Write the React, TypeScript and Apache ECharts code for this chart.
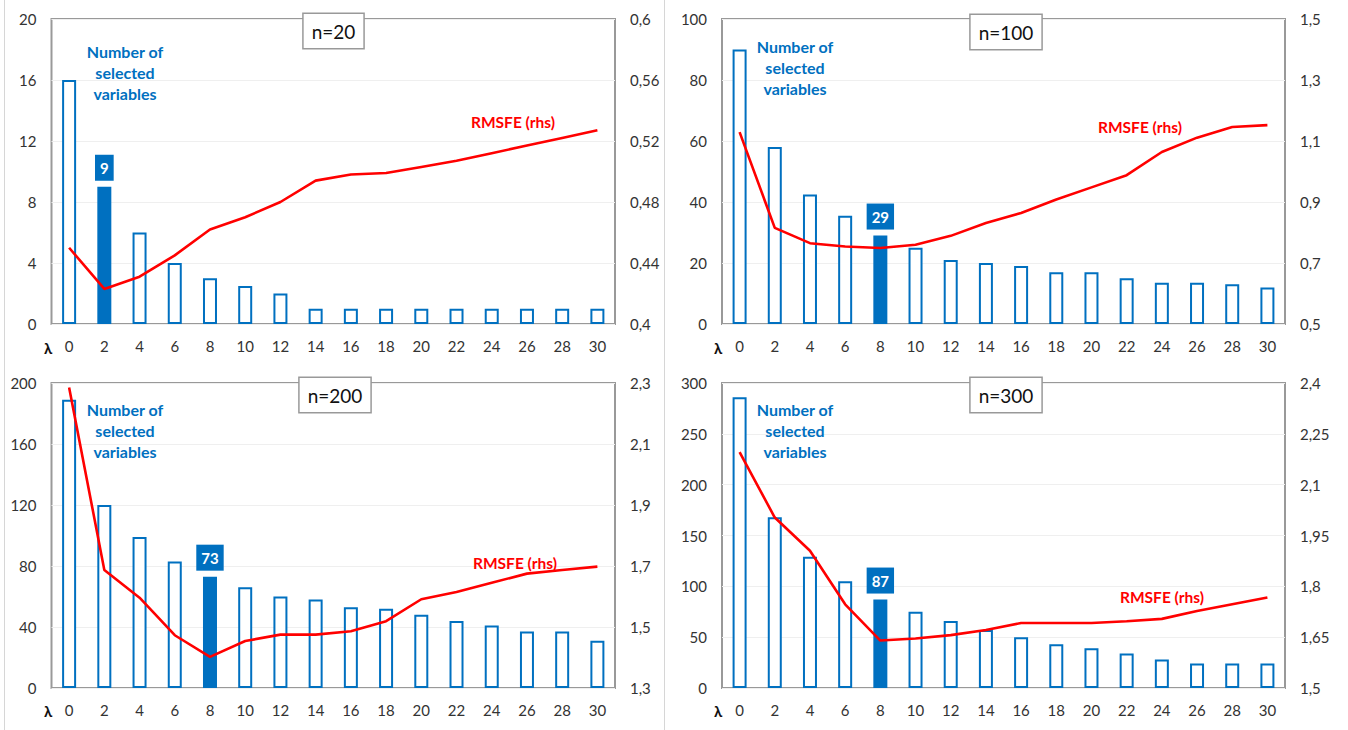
import React, { useEffect, useRef } from "react";
import * as echarts from "echarts";

const lambdas = ["0", "2", "4", "6", "8", "10", "12", "14", "16", "18", "20", "22", "24", "26", "28", "30"];

const vars20 = [16, 9, 6, 4, 3, 2.5, 2, 1, 1, 1, 1, 1, 1, 1, 1, 1];
const rmsfe20 = [0.450, 0.423, 0.431, 0.445, 0.462, 0.470, 0.480, 0.494, 0.498, 0.499, 0.503, 0.507, 0.512, 0.517, 0.522, 0.527];

const vars100 = [90, 58, 42.5, 35.5, 29, 25, 21, 20, 19, 17, 17, 15, 13.5, 13.5, 13, 12];
const rmsfe100 = [1.129, 0.815, 0.765, 0.754, 0.749, 0.760, 0.789, 0.831, 0.864, 0.908, 0.948, 0.988, 1.064, 1.111, 1.146, 1.152];

const vars200 = [189, 120, 99, 83, 73, 66, 60, 58, 53, 52, 48, 44, 41, 37, 37, 31];
const rmsfe200 = [2.285, 1.687, 1.596, 1.473, 1.402, 1.454, 1.475, 1.475, 1.486, 1.519, 1.591, 1.615, 1.645, 1.675, 1.687, 1.698];

const vars300 = [286, 168, 129, 105, 87, 75, 66, 57, 50, 43, 39, 34, 28, 24, 24, 24];
const rmsfe300 = [2.196, 2.003, 1.905, 1.747, 1.640, 1.646, 1.656, 1.671, 1.692, 1.692, 1.692, 1.697, 1.704, 1.727, 1.747, 1.767];

const titles = ["n=20", "n=100", "n=200", "n=300"];
const selectedIdx = [1, 4, 4, 4];
const leftRanges = [
  [0, 20, 4],
  [0, 100, 20],
  [0, 200, 40],
  [0, 300, 50],
];
// [min, max, interval, labelEvery]
const rightRanges = [
  [0.4, 0.6, 0.04, 1],
  [0.5, 1.5, 0.1, 2],
  [1.3, 2.3, 0.1, 2],
  [1.5, 2.4, 0.15, 1],
];

const barsData = [vars20, vars100, vars200, vars300];
const lineData = [rmsfe20, rmsfe100, rmsfe200, rmsfe300];

const BLUE = "#0070C0";
const RED = "#FF0000";
const FONT = "Lato";

// layout
const grids = [
  { left: 51.5, top: 19, width: 563.5, height: 305 },
  { left: 722, top: 19, width: 563, height: 305 },
  { left: 51.5, top: 383, width: 563.5, height: 305 },
  { left: 722, top: 383, width: 563, height: 305 },
];
const titlePos = [
  [333.5, 14],
  [1006, 15],
  [335, 378],
  [1006, 378],
];
const numPos = [
  [125, 41],
  [795, 36],
  [125, 399],
  [795, 399],
];
const rmsPos = [
  [513, 122],
  [1140, 127],
  [515, 563],
  [1162, 597],
];
const lambdaPos = [
  [48, 348],
  [718, 348],
  [48, 711],
  [718, 711],
];

function fmtComma(v: number) {
  return String(parseFloat(v.toFixed(4))).replace(".", ",");
}

export default function App() {
  const ref = useRef<HTMLDivElement>(null);
  useEffect(() => {
    if (!ref.current) return;
    const chart = echarts.init(ref.current, null, { renderer: "svg" });

    const xAxis: any[] = [];
    const yAxis: any[] = [];
    const series: any[] = [];
    const graphic: any[] = [];

    for (let p = 0; p < 4; p++) {
      xAxis.push({
        type: "category",
        gridIndex: p,
        data: lambdas,
        boundaryGap: true,
        axisLine: { show: false },
        axisTick: { show: false },
        axisLabel: { color: "#333", fontSize: 15, fontFamily: FONT, margin: 14, lineHeight: 15 },
        splitLine: { show: false },
      });
      const [lmin, lmax, lint] = leftRanges[p];
      yAxis.push({
        type: "value",
        gridIndex: p,
        position: "left",
        min: lmin,
        max: lmax,
        interval: lint,
        axisLine: { show: false },
        axisTick: { show: false },
        axisLabel: { color: "#333", fontSize: 15, fontFamily: FONT, margin: 15 },
        splitLine: { show: true, lineStyle: { color: "#efefef", width: 1 } },
      });
      const [rmin, rmax, rint, every] = rightRanges[p];
      yAxis.push({
        type: "value",
        gridIndex: p,
        position: "right",
        min: rmin,
        max: rmax,
        interval: rint,
        axisLine: { show: false },
        axisTick: { show: false },
        splitLine: { show: false },
        axisLabel: {
          color: "#333",
          fontSize: 15,
          fontFamily: FONT,
          margin: 15,
          formatter: (v: number) => {
            const k = Math.round((v - rmin) / rint);
            if (k % every !== 0) return "";
            return fmtComma(v);
          },
        },
      });

      const sel = selectedIdx[p];
      series.push({
        type: "bar",
        xAxisIndex: p,
        yAxisIndex: p * 2,
        barWidth: 14,
        itemStyle: { color: "#ffffff", borderColor: BLUE, borderWidth: 2 },
        data: barsData[p].map((v, i) =>
          i === sel
            ? {
                value: v,
                itemStyle: { color: BLUE, borderColor: BLUE, borderWidth: 2 },
                label: {
                  show: true,
                  position: "top",
                  distance: 6,
                  color: "#fff",
                  fontWeight: "bold",
                  fontSize: 15,
                  fontFamily: FONT,
                  backgroundColor: BLUE,
                  padding: [6, 5],
                  lineHeight: 14,
                },
              }
            : v
        ),
        z: 2,
      });
      series.push({
        type: "line",
        xAxisIndex: p,
        yAxisIndex: p * 2 + 1,
        data: lineData[p],
        showSymbol: false,
        symbol: "none",
        lineStyle: { color: RED, width: 2.6 },
        z: 3,
      });

      graphic.push({
        type: "text",
        x: titlePos[p][0],
        y: titlePos[p][1],
        z: 10,
        style: {
          text: titles[p],
          align: "center",
          verticalAlign: "top",
          fontSize: 19,
          fontFamily: FONT,
          fill: "#111",
          lineHeight: 22,
          backgroundColor: "#fff",
          borderColor: "#999",
          borderWidth: 1.5,
          padding: [6, 8],
        },
      });
      graphic.push({
        type: "text",
        x: numPos[p][0],
        y: numPos[p][1],
        z: 10,
        style: {
          text: "Number of\nselected\nvariables",
          align: "center",
          verticalAlign: "top",
          fontSize: 16,
          fontWeight: "bold",
          fontFamily: FONT,
          fill: BLUE,
          lineHeight: 21,
        },
      });
      graphic.push({
        type: "text",
        x: rmsPos[p][0],
        y: rmsPos[p][1],
        z: 10,
        style: {
          text: "RMSFE (rhs)",
          align: "center",
          verticalAlign: "middle",
          fontSize: 15.5,
          fontWeight: "bold",
          fontFamily: FONT,
          fill: RED,
        },
      });
      graphic.push({
        type: "text",
        x: lambdaPos[p][0],
        y: lambdaPos[p][1],
        z: 10,
        style: {
          text: "λ",
          align: "center",
          verticalAlign: "middle",
          fontSize: 15,
          fontWeight: "bold",
          fontFamily: FONT,
          fill: "#111",
        },
      });
    }

    graphic.push({
      type: "line",
      shape: { x1: 4.5, y1: 0, x2: 4.5, y2: 730 },
      style: { stroke: "#d6d6d6", lineWidth: 1 },
    });
    graphic.push({
      type: "line",
      shape: { x1: 664.5, y1: 0, x2: 664.5, y2: 730 },
      style: { stroke: "#d6d6d6", lineWidth: 1 },
    });

    chart.setOption({
      animation: false,
      backgroundColor: "#ffffff",
      grid: grids.map((g) => ({
        ...g,
        show: true,
        borderColor: "#999999",
        borderWidth: 2,
        backgroundColor: "transparent",
        containLabel: false,
      })),
      xAxis,
      yAxis,
      series,
      graphic,
    });

    return () => {
      chart.dispose();
    };
  }, []);

  return (
    <div
      ref={ref}
      style={{ position: "fixed", left: 0, top: 0, width: 1348, height: 730, background: "#fff" }}
    />
  );
}
